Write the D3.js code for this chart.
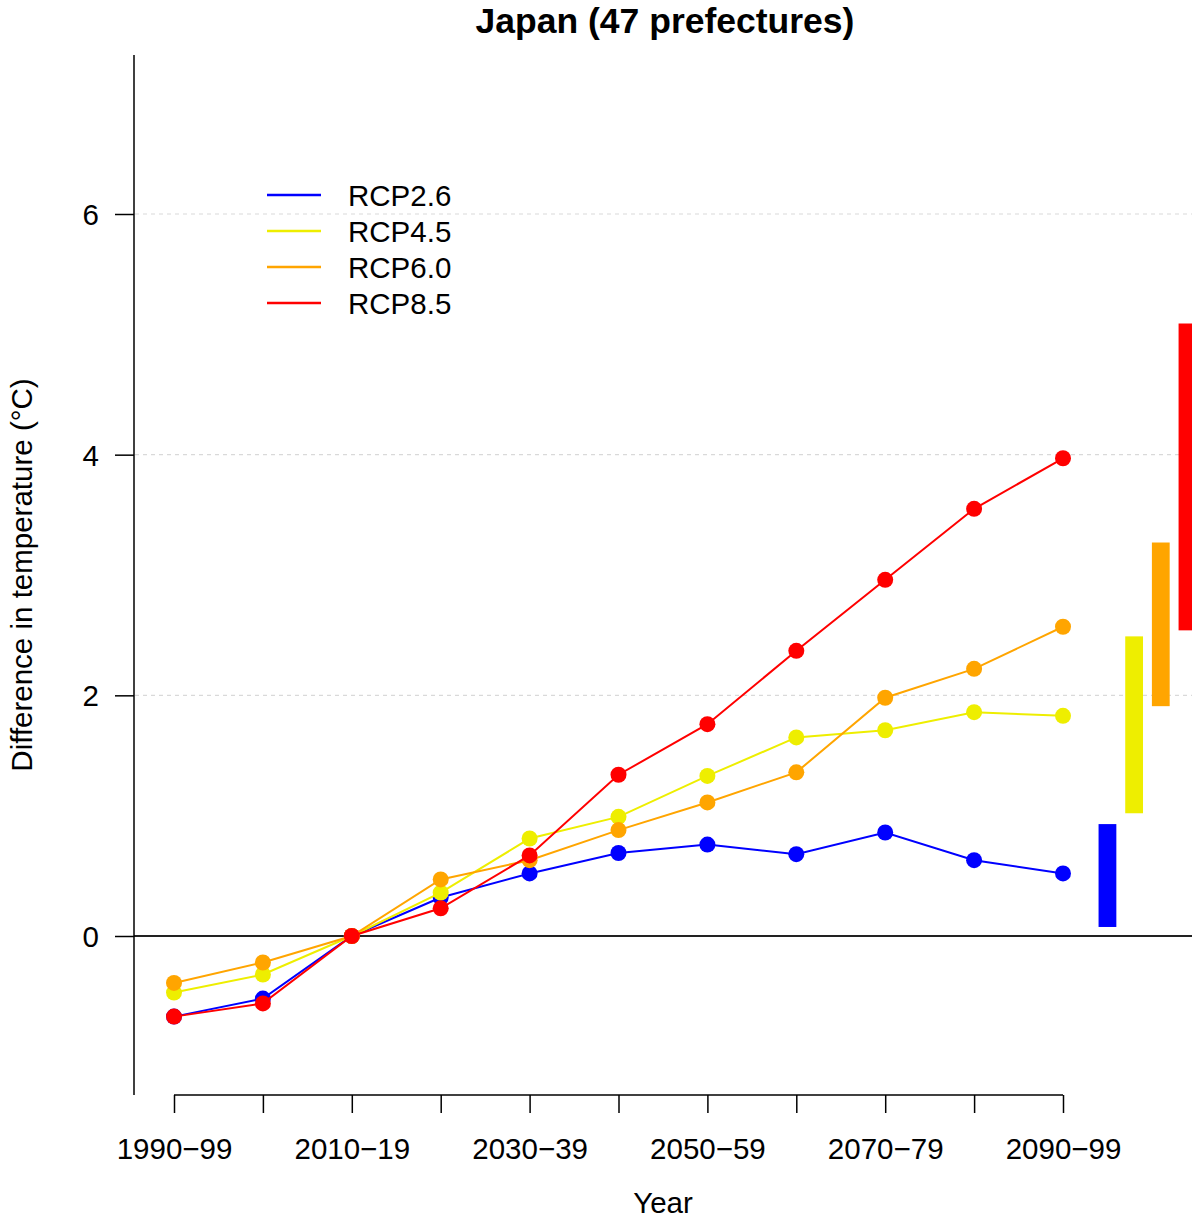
<!DOCTYPE html>
<html>
<head>
<meta charset="utf-8">
<script src="https://cdn.jsdelivr.net/npm/d3@7"></script>
<style>
  body { margin: 0; background: #fff; }
  svg { display: block; font-family: "Liberation Sans", Arial, sans-serif; }
</style>
</head>
<body>
<svg id="chart" width="1192" height="1219"></svg>
<script>
const width = 1192;
const height = 1219;

// decades on the x axis
const decades = ["1990-99", "2000-09", "2010-19", "2020-29", "2030-39", "2040-49",
  "2050-59", "2060-69", "2070-79", "2080-89", "2090-99"];

const scenarios = ["RCP2.6", "RCP4.5", "RCP6.0", "RCP8.5"];
const colors = ["#0000ff", "#eeee00", "#ffa500", "#ff0000"];

// temperature differences relative to 2010-19 (°C)
const rcp26 = [-0.67, -0.52, 0, 0.32, 0.52, 0.69, 0.76, 0.68, 0.86, 0.63, 0.52];
const rcp45 = [-0.47, -0.32, 0, 0.36, 0.81, 0.99, 1.33, 1.65, 1.71, 1.86, 1.83];
const rcp60 = [-0.39, -0.22, 0, 0.47, 0.63, 0.88, 1.11, 1.36, 1.98, 2.22, 2.57];
const rcp85 = [-0.67, -0.56, 0, 0.23, 0.67, 1.34, 1.76, 2.37, 2.96, 3.55, 3.97];

// ranges for 2090-99 drawn as bars at the right
const rangeLow = [0.075, 1.02, 1.91, 2.54];
const rangeHigh = [0.93, 2.49, 3.27, 5.09];

const yTicks = [0, 2, 4, 6];
const xLabelEvery = 2;

const series = [rcp26, rcp45, rcp60, rcp85];

const margin = { left: 134, top: 55, bottom: 1095 };
const fontSize = 29.5;

const x = d3.scaleLinear().domain([0, 10]).range([174, 1063]);
const y = d3.scaleLinear().domain([0, 6]).range([936, 214]);
const yMin = y.invert(margin.bottom), yMax = y.invert(margin.top);

const svg = d3.select("#chart");

// title
svg.append("text")
  .attr("x", 665).attr("y", 33)
  .attr("text-anchor", "middle")
  .attr("font-weight", "bold")
  .attr("font-size", 35.5)
  .text("Japan (47 prefectures)");

// dashed grid lines
svg.append("g")
  .selectAll("line")
  .data(yTicks.filter(d => d !== 0))
  .join("line")
  .attr("x1", margin.left + 1).attr("x2", width)
  .attr("y1", d => y(d)).attr("y2", d => y(d))
  .attr("stroke", "#d9d9d9")
  .attr("stroke-width", 1.2)
  .attr("stroke-dasharray", "4,4");

// zero line
svg.append("line")
  .attr("x1", margin.left).attr("x2", width)
  .attr("y1", y(0)).attr("y2", y(0))
  .attr("stroke", "#222")
  .attr("stroke-width", 2);

// y axis
const yAxis = d3.axisLeft(y)
  .tickValues(yTicks)
  .tickSize(19)
  .tickPadding(16)
  .tickFormat(d3.format("d"));
const yg = svg.append("g")
  .attr("transform", `translate(${margin.left},0)`)
  .call(yAxis);
yg.select(".domain").remove();
yg.append("line")
  .attr("y1", y(yMax)).attr("y2", y(yMin))
  .attr("stroke", "#000").attr("stroke-width", 1.5);
yg.selectAll(".tick line").attr("stroke", "#000").attr("stroke-width", 1.5);
yg.selectAll(".tick text")
  .attr("font-size", fontSize)
  .attr("fill", "#000")
  .attr("font-family", "Liberation Sans, Arial, sans-serif")
  .attr("dy", "0.36em");

// x axis
const xAxis = d3.axisBottom(x)
  .tickValues(d3.range(decades.length))
  .tickSize(18)
  .tickSizeOuter(0)
  .tickPadding(22)
  .tickFormat(i => i % xLabelEvery === 0 ? decades[i].replace("-", "\u2212") : "");
const xg = svg.append("g")
  .attr("transform", `translate(0,${margin.bottom})`)
  .call(xAxis);
xg.select(".domain").attr("stroke", "#000").attr("stroke-width", 1.5)
  .attr("d", `M${x(0)},0H${x(10)}`);
xg.selectAll(".tick line").attr("stroke", "#000").attr("stroke-width", 1.5);
xg.selectAll(".tick text")
  .attr("font-size", fontSize)
  .attr("fill", "#000")
  .attr("font-family", "Liberation Sans, Arial, sans-serif")
  .attr("dy", "0.8em");

// axis titles
svg.append("text")
  .attr("x", 663).attr("y", 1213)
  .attr("text-anchor", "middle")
  .attr("font-size", fontSize)
  .text("Year");
svg.append("text")
  .attr("transform", `translate(32,${y(yMin + (yMax - yMin) / 2)}) rotate(-90)`)
  .attr("text-anchor", "middle")
  .attr("font-size", fontSize)
  .text("Difference in temperature (\u00b0C)");

// range bars for 2090-99
const barStart = 10.5, barStep = 0.3, barW = 0.2;
svg.append("g")
  .selectAll("rect")
  .data(scenarios.map((s, i) => ({ i, lo: rangeLow[i], hi: rangeHigh[i] })))
  .join("rect")
  .attr("x", d => x(barStart + d.i * barStep - barW / 2))
  .attr("width", x(barW) - x(0))
  .attr("y", d => y(d.hi))
  .attr("height", d => y(d.lo) - y(d.hi))
  .attr("fill", d => colors[d.i]);

// lines and points
const line = d3.line().x((d, i) => x(i)).y(d => y(d));
series.forEach((vals, k) => {
  const g = svg.append("g");
  g.append("path")
    .datum(vals)
    .attr("d", line)
    .attr("fill", "none")
    .attr("stroke", colors[k])
    .attr("stroke-width", 2);
  g.selectAll("circle")
    .data(vals)
    .join("circle")
    .attr("cx", (d, i) => x(i))
    .attr("cy", d => y(d))
    .attr("r", 8)
    .attr("fill", colors[k]);
});

// legend
const legend = svg.append("g");
scenarios.forEach((s, k) => {
  const ly = 195 + k * 36;
  legend.append("line")
    .attr("x1", 267).attr("x2", 321)
    .attr("y1", ly).attr("y2", ly)
    .attr("stroke", colors[k])
    .attr("stroke-width", 2.5);
  legend.append("text")
    .attr("x", 348).attr("y", ly)
    .attr("dy", "0.36em")
    .attr("font-size", fontSize)
    .text(s);
});
</script>
</body>
</html>
